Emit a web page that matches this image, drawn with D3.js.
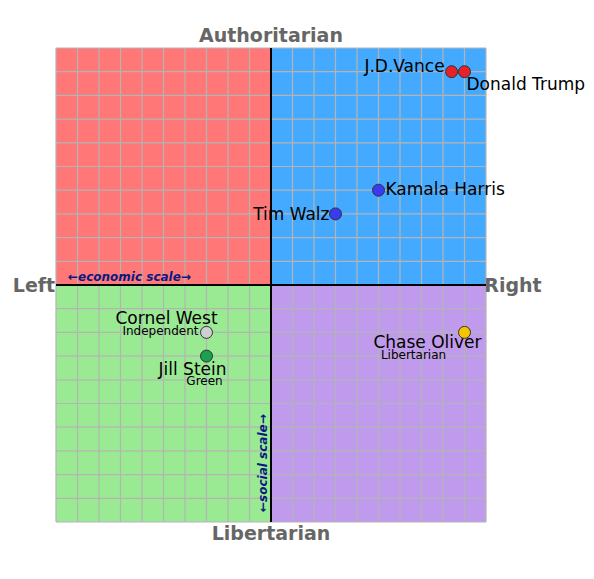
<!DOCTYPE html><html><head><meta charset="utf-8"><script src="https://cdn.jsdelivr.net/npm/d3@7"></script>
<style>body{margin:0;background:#fff}text{font-family:"DejaVu Sans",sans-serif}</style></head><body><svg width="594" height="579"></svg><script>
const names=["Donald Trump","J.D.Vance","Kamala Harris","Tim Walz","Chase Oliver","Cornel West","Jill Stein"];
const econ=[9,8.4,5,3,9,-3,-3];
const social=[9,9,4,3,-2,-2,-3];
const parties=["","","","","Libertarian","Independent","Green"];
const colors=["#e8202a","#e8202a","#3a3af0","#3a3af0","#f5c400","#cfcfcf","#1aa050"];
const axisLabels=["Authoritarian","Libertarian","Left","Right"];
const svg=d3.select("svg");
const x=d3.scaleLinear().domain([-10,10]).range([56,486]);
const y=d3.scaleLinear().domain([-10,10]).range([522,48]);
const quads=[[-10,0,10,0,"#ff7777"],[0,10,10,0,"#44aaff"],[-10,0,0,-10,"#9aea94"],[0,10,0,-10,"#c09aec"]];
quads.forEach(q=>svg.append("rect").attr("x",x(q[0])).attr("width",x(q[1])-x(q[0])).attr("y",y(q[2])).attr("height",y(q[3])-y(q[2])).attr("fill",q[4]));
const ticks=d3.range(-10,11);
svg.selectAll(".gv").data(ticks).join("line").attr("x1",d=>x(d)).attr("x2",d=>x(d)).attr("y1",y(10)).attr("y2",y(-10)).attr("stroke","#b4b4b4").attr("stroke-width",1.2);
svg.selectAll(".gh").data(ticks).join("line").attr("y1",d=>y(d)).attr("y2",d=>y(d)).attr("x1",x(-10)).attr("x2",x(10)).attr("stroke","#b4b4b4").attr("stroke-width",1.2);
svg.append("line").attr("x1",x(0)).attr("x2",x(0)).attr("y1",y(10)).attr("y2",y(-10)).attr("stroke","#000").attr("stroke-width",2);
svg.append("line").attr("y1",y(0)).attr("y2",y(0)).attr("x1",x(-10)).attr("x2",x(10)).attr("stroke","#000").attr("stroke-width",2);
const ax=svg.append("g").attr("fill","#666").attr("font-weight","bold").attr("font-size",19);
ax.append("text").attr("x",x(0)).attr("y",42).attr("text-anchor","middle").text(axisLabels[0]);
ax.append("text").attr("x",x(0)).attr("y",540).attr("text-anchor","middle").text(axisLabels[1]);
ax.append("text").attr("x",34).attr("y",y(0)+7).attr("text-anchor","middle").text(axisLabels[2]);
ax.append("text").attr("x",513).attr("y",y(0)+7).attr("text-anchor","middle").text(axisLabels[3]);
svg.append("text").attr("x",68).attr("y",y(0)-4).attr("font-size",12).attr("font-style","italic").attr("font-weight","bold").attr("fill","#0a1a80").text("←economic scale→");
svg.append("text").attr("transform",`translate(${x(0)-4},${y(-10)-10}) rotate(-90)`).attr("font-size",12).attr("font-style","italic").attr("font-weight","bold").attr("fill","#0a1a80").text("←social scale→");
const lay=[[2,18,"start"],[-7,0,"end"],[7,5,"start"],[-6,6,"end"],[-37,16,"middle"],[-40,-8,"middle"],[-14,19,"middle"]];
const play=[null,null,null,null,[-51,27],[-8,3,"end"],[-2,29]];
const data=names.map((n,i)=>({n,e:econ[i],s:social[i],p:parties[i],c:colors[i],l:lay[i],pl:play[i]}));
data.forEach(d=>{const px=x(d.e),py=y(d.s);
 svg.append("text").attr("x",px+d.l[0]).attr("y",py+d.l[1]).attr("text-anchor",d.l[2]).attr("font-size",17).text(d.n);
 if(d.p) svg.append("text").attr("x",px+d.pl[0]).attr("y",py+d.pl[1]).attr("text-anchor",d.pl[2]||"middle").attr("font-size",12).text(d.p);
});
svg.selectAll("circle").data(data).join("circle").attr("cx",d=>x(d.e)).attr("cy",d=>y(d.s)).attr("r",6).attr("fill",d=>d.c).attr("stroke","#333").attr("stroke-width",1);
</script></body></html>
